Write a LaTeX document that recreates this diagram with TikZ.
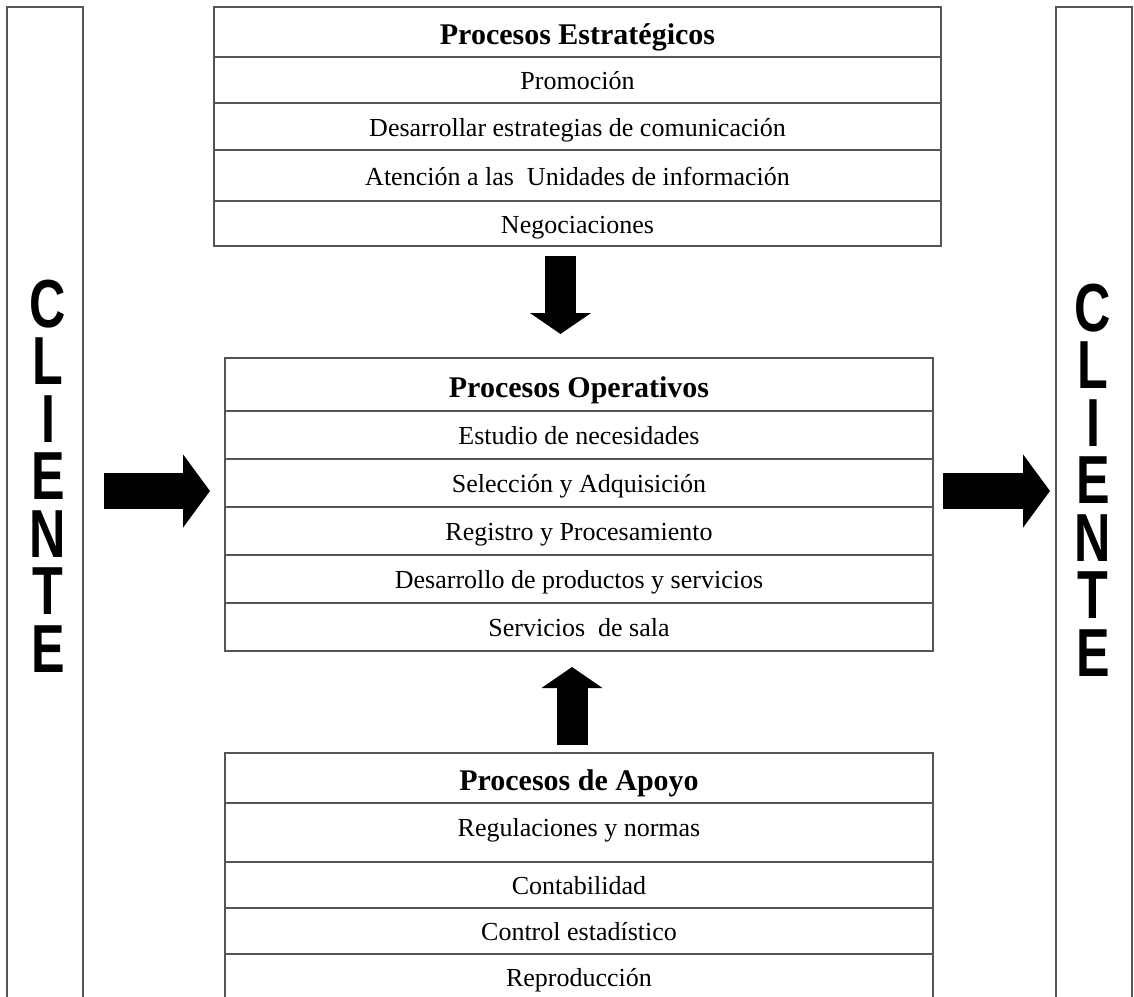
\documentclass[tikz,border=0pt]{standalone}
\usepackage{fontspec}
\setmainfont{Liberation Serif}
\newfontfamily\clientefont[FakeStretch=0.74]{Liberation Sans}
\usetikzlibrary{positioning, arrows.meta, calc}
\usepackage{xcolor}
\definecolor{linea}{HTML}{555555}

\begin{document}
\begin{tikzpicture}[x=1pt, y=-1pt,
    fila/.style={draw=linea, line width=1.6pt, inner sep=0pt, outer sep=0pt,
                 anchor=north west, font=\fontsize{26}{30}\selectfont,
                 text height=22pt, text depth=2.8pt},
    titulo/.style={fila, font=\fontsize{30}{34}\selectfont\bfseries,
                   text height=28pt, text depth=3pt},
    est/.style={minimum width=727pt},
    op/.style={minimum width=708pt},
    columna/.style={draw=linea, line width=1.6pt, inner sep=0pt, outer sep=0pt,
                    anchor=north west, minimum width=76pt, minimum height=993pt},
    cliente/.style={font=\clientefont\bfseries\fontsize{68}{57.5}\selectfont,
                    align=center, inner sep=0pt},
    flechav/.style={line width=31pt, -{Triangle[width=60pt, length=21pt]}},
    flechah/.style={line width=36pt, -{Triangle[width=72pt, length=27pt]}}]
  \useasboundingbox (0,0) rectangle (1134,996);

  % columnas de cliente
  \node[columna] (clil) at (7,7) {};
  \node[columna] (clir) at (1056,7) {};
  \node[cliente] (clilt) at (48,476) {C\\L\\I\\E\\N\\T\\E};
  \node[cliente] (clirt) at (1093,480) {C\\L\\I\\E\\N\\T\\E};

  % procesos estrategicos
  \node[titulo, est, minimum height=50pt] (est0) at (214,7) {Procesos Estratégicos};
  \node[fila, est, minimum height=46pt] (est1) at (214,57) {Promoción};
  \node[fila, est, minimum height=47pt] (est2) at (214,103) {Desarrollar estrategias de comunicación};
  \node[fila, est, minimum height=51pt] (est3) at (214,150) {Atención a las~ Unidades de información};
  \node[fila, est, minimum height=45pt] (est4) at (214,201) {Negociaciones};

  % procesos operativos
  \node[titulo, op, minimum height=53pt] (op0) at (225,358) {Procesos Operativos};
  \node[fila, op, minimum height=48pt] (op1) at (225,411) {Estudio de necesidades};
  \node[fila, op, minimum height=48pt] (op2) at (225,459) {Selección y Adquisición};
  \node[fila, op, minimum height=48pt] (op3) at (225,507) {Registro y Procesamiento};
  \node[fila, op, minimum height=48pt] (op4) at (225,555) {Desarrollo de productos y servicios};
  \node[fila, op, minimum height=48pt] (op5) at (225,603) {Servicios~ de sala};

  % procesos de apoyo
  \node[titulo, op, minimum height=50pt] (ap0) at (225,753) {Procesos de Apoyo};
  \node[fila, op, minimum height=59pt, text height=10pt] (ap1) at (225,803) {Regulaciones y normas};
  \node[fila, op, minimum height=46pt] (ap2) at (225,862) {Contabilidad};
  \node[fila, op, minimum height=46pt] (ap3) at (225,908) {Control estadístico};
  \node[fila, op, minimum height=46pt] (ap4) at (225,954) {Reproducción};

  % flechas
  \coordinate (entrada) at ($(op2.west)+(0,8)$);
  \coordinate (salida) at ($(op2.east)+(0,8)$);
  \draw[flechav, shorten <=10pt, shorten >=24pt]
    ($(est4.south)+(-17,0)$) -- ($(op0.north)+(-18.5,0)$);
  \draw[flechav, shorten <=8pt, shorten >=16pt]
    ($(ap0.north)+(-7,0)$) -- ($(op5.south)+(-7,0)$);
  \draw[flechah, shorten <=21pt, shorten >=15pt] (clil.east |- entrada) -- (entrada);
  \draw[flechah, shorten <=10pt, shorten >=6pt] (salida) -- (clir.west |- salida);
\end{tikzpicture}
\end{document}
